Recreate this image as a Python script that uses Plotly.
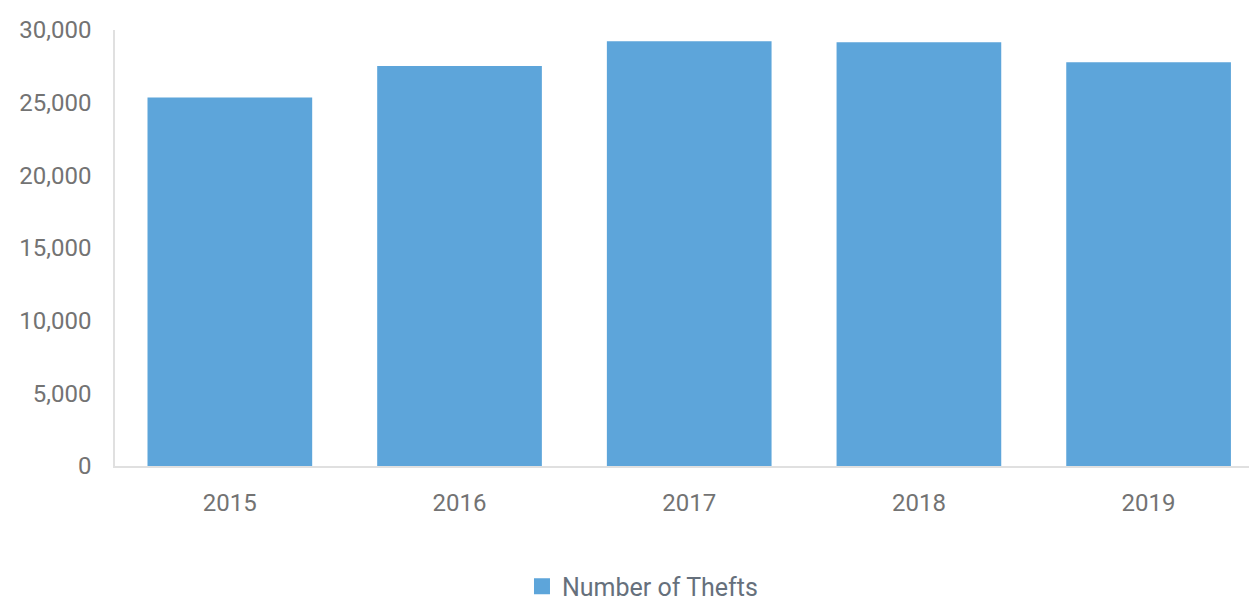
import plotly.graph_objects as go

years = ["2015", "2016", "2017", "2018", "2019"]
thefts = [25360, 27530, 29220, 29150, 27780]
y_ticks = [0, 5000, 10000, 15000, 20000, 25000, 30000]
y_tick_labels = ["0", "5,000", "10,000", "15,000", "20,000", "25,000", "30,000"]
series_name = "Number of Thefts"

bar_color = "#5DA5DA"
font_family = "Roboto, 'Open Sans', sans-serif"

fig = go.Figure()
fig.add_trace(go.Bar(
    x=years, y=thefts, name=series_name,
    marker=dict(color=bar_color, line=dict(width=0)),
    showlegend=False,
))
# legend entry
fig.add_trace(go.Scatter(
    x=[None], y=[None], mode="markers", name=series_name,
    marker=dict(symbol="square", size=21, color=bar_color),
    showlegend=True,
))

fig.update_layout(
    width=1249, height=594,
    margin=dict(l=107, r=0, t=22, b=136),
    paper_bgcolor="white", plot_bgcolor="white",
    bargap=0.283,
    font=dict(family=font_family, color="#757575"),
    legend=dict(
        orientation="h", xref="container", yref="container",
        x=0.508, xanchor="center", y=0.026, yanchor="middle",
        font=dict(size=25, color="#66707c"),
        itemsizing="trace",
    ),
    xaxis=dict(
        type="category",
        range=[-0.5, 4.472],
        showgrid=False,
        showline=True, linecolor="#e0e0e0", linewidth=1.5,
        ticks="", tickfont=dict(size=24, color="#737373"),
        ticklabelstandoff=14,
        zeroline=False,
    ),
    yaxis=dict(
        range=[0, 30000],
        tickvals=y_ticks, ticktext=y_tick_labels,
        showgrid=False,
        showline=True, linecolor="#e0e0e0", linewidth=1.5,
        ticks="", tickfont=dict(size=24, color="#737373"),
        ticklabelstandoff=17,
        zeroline=False,
    ),
)

fig.write_html("out.html")
